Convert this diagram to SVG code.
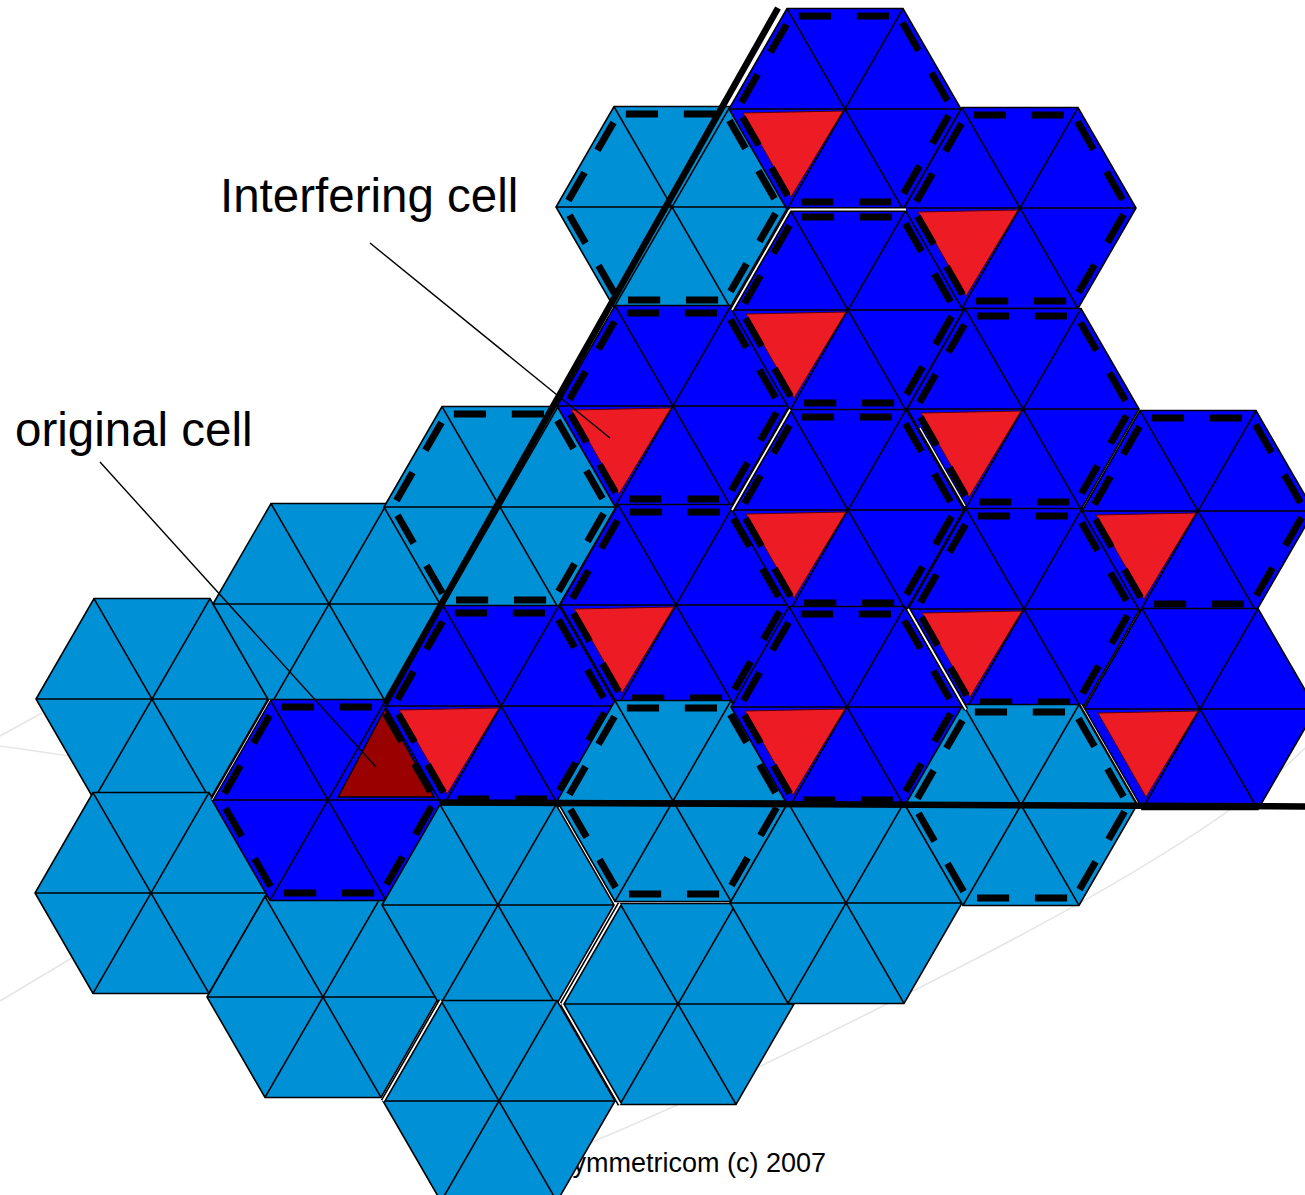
<svg xmlns="http://www.w3.org/2000/svg" width="1305" height="1195" viewBox="0 0 1305 1195">
<style>
.lb{fill:#0090d5;stroke:#000;stroke-width:1.6;stroke-linejoin:miter}
.db{fill:#0000ff;stroke:#000;stroke-width:1.6;stroke-linejoin:miter}
.gl{fill:none;stroke:#000;stroke-width:1.6}
.rt{fill:#ed1c24;stroke:#5a0000;stroke-width:1}
.dr{fill:#990000;stroke:#000;stroke-width:1.4}
.ds{fill:none;stroke:#000;stroke-width:7;stroke-dasharray:30 24 30 16;stroke-dashoffset:93;stroke-linecap:butt}
.bg{fill:none;stroke:#e6e6e6;stroke-width:1.6}
.seamk{stroke:#000;stroke-width:5;stroke-linecap:butt}
.seamw{stroke:#fff;stroke-width:1.8;stroke-linecap:butt}
.axis{fill:none;stroke:#000;stroke-width:6.5;stroke-linecap:butt}
.lead{fill:none;stroke:#000;stroke-width:1.4}
.lbl{font-family:"Liberation Sans",Arial,sans-serif;font-size:47.5px;fill:#000}
.foot{font-family:"Liberation Sans",Arial,sans-serif;font-size:27px;fill:#000}
</style>
<defs>
<path id="hex" d="M-58,-100.46L58,-100.46L116,0L58,100.46L-58,100.46L-116,0Z"/>
<path id="grid" d="M-58,-100.46L58,100.46M58,-100.46L-58,100.46M-116,0L116,0"/>
<path id="dhex" pathLength="600" d="M-53.67,-92.96L53.67,-92.96L107.34,0L53.67,92.96L-53.67,92.96L-107.34,0Z"/>
<polygon id="red" points="-102,4 -2,2 -54,88"/>
</defs>
<rect width="1305" height="1195" fill="#fff"/>
<g id="background">
<path class="bg" d="M0,736L42,713"/>
<path class="bg" d="M0,746L70,756"/>
<path class="bg" d="M0,1001L72,958"/>
<path class="bg" d="M560,1155Q700,1100 960,967T1305,748"/>
</g>
<text class="foot" x="826" y="1172" text-anchor="end">Symmetricom (c) 2007</text>
<g id="cells">
<g id="A1" transform="translate(152,699)"><use href="#hex" class="lb"/><use href="#grid" class="gl"/></g>
<g id="A2" transform="translate(151,893)"><use href="#hex" class="lb"/><use href="#grid" class="gl"/></g>
<g id="B1" transform="translate(329,604)"><use href="#hex" class="lb"/><use href="#grid" class="gl"/></g>
<g id="B3" transform="translate(323,997)"><use href="#hex" class="lb"/><use href="#grid" class="gl"/></g>
<g id="B2" transform="translate(328,800)"><use href="#hex" class="db"/><use href="#grid" class="gl"/><polygon class="dr" points="10,-3 57,-91 106,-3"/><use href="#dhex" class="ds"/></g>
<g id="C1" transform="translate(500,507)"><use href="#hex" class="lb"/><use href="#grid" class="gl"/><use href="#dhex" class="ds"/></g>
<g id="C2" transform="translate(501,706)"><use href="#hex" class="db"/><use href="#grid" class="gl"/><use href="#red" class="rt"/><use href="#dhex" class="ds"/></g>
<g id="C3" transform="translate(498,905)"><use href="#hex" class="lb"/><use href="#grid" class="gl"/></g>
<g id="C4" transform="translate(499,1101)"><use href="#hex" class="lb"/><use href="#grid" class="gl"/></g>
<g id="D1" transform="translate(672,207)"><use href="#hex" class="lb"/><use href="#grid" class="gl"/><use href="#dhex" class="ds"/></g>
<g id="D2" transform="translate(673,406)"><use href="#hex" class="db"/><use href="#grid" class="gl"/><use href="#red" class="rt"/><use href="#dhex" class="ds"/></g>
<g id="D3" transform="translate(676,605)"><use href="#hex" class="db"/><use href="#grid" class="gl"/><use href="#red" class="rt"/><use href="#dhex" class="ds"/></g>
<g id="D4" transform="translate(673,801)"><use href="#hex" class="lb"/><use href="#grid" class="gl"/><use href="#dhex" class="ds"/></g>
<g id="D5" transform="translate(678,1004)"><use href="#hex" class="lb"/><use href="#grid" class="gl"/></g>
<g id="E1" transform="translate(845,109)"><use href="#hex" class="db"/><use href="#grid" class="gl"/><use href="#red" class="rt"/><use href="#dhex" class="ds"/></g>
<g id="E2" transform="translate(848,310)"><use href="#hex" class="db"/><use href="#grid" class="gl"/><use href="#red" class="rt"/><use href="#dhex" class="ds"/></g>
<g id="E3" transform="translate(848,510)"><use href="#hex" class="db"/><use href="#grid" class="gl"/><use href="#red" class="rt"/><use href="#dhex" class="ds"/></g>
<g id="E4" transform="translate(847,707)"><use href="#hex" class="db"/><use href="#grid" class="gl"/><use href="#red" class="rt"/><use href="#dhex" class="ds"/></g>
<g id="E5" transform="translate(846,903)"><use href="#hex" class="lb"/><use href="#grid" class="gl"/></g>
<g id="F1" transform="translate(1020,208)"><use href="#hex" class="db"/><use href="#grid" class="gl"/><use href="#red" class="rt"/><use href="#dhex" class="ds"/></g>
<g id="F2" transform="translate(1023,409)"><use href="#hex" class="db"/><use href="#grid" class="gl"/><use href="#red" class="rt"/><use href="#dhex" class="ds"/></g>
<g id="F3" transform="translate(1024,609)"><use href="#hex" class="db"/><use href="#grid" class="gl"/><use href="#red" class="rt"/><use href="#dhex" class="ds"/></g>
<g id="F4" transform="translate(1021,805)"><use href="#hex" class="lb"/><use href="#grid" class="gl"/><use href="#dhex" class="ds"/></g>
<g id="G1" transform="translate(1198,511)"><use href="#hex" class="db"/><use href="#grid" class="gl"/><use href="#red" class="rt"/><use href="#dhex" class="ds"/></g>
<g id="G2" transform="translate(1200,709)"><use href="#hex" class="db"/><use href="#grid" class="gl"/><use href="#red" class="rt"/></g>
</g>
<g id="seams">
<path class="seamk" d="M790,209.5L906,209.5M732,310L790,209.5M732,510L790,409.5M908,609L966,709.5M562,1004L620,903.5M562,1004L620,1104.5M383,1101L441,1000.5"/>
<path class="seamw" d="M790,209.5L906,209.5M732,310L790,209.5M732,510L790,409.5M908,609L966,709.5M562,1004L620,903.5M562,1004L620,1104.5M383,1101L441,1000.5"/>
<path class="seamk" style="stroke-width:3.5" d="M1081,704.5L1139,805M212,800L270,699.5M920,428L965,506"/>
<path class="seamw" style="stroke:#ddd;stroke-width:1" d="M1081,704.5L1139,805M212,800L270,699.5"/>
<path class="seamw" style="stroke-width:1.4" d="M920,428L965,506"/>
</g>
<g id="axes">
<path class="axis" d="M778,8L385,704"/>
<path class="axis" d="M440,802.5L1305,806.5"/>
</g>
<g id="connectors">
<path class="lead" d="M370,243L610,438"/>
<path class="lead" d="M100,462L376,767"/>
</g>
<g id="labels">
<text class="lbl" x="220" y="212">Interfering cell</text>
<text class="lbl" x="15" y="446">original cell</text>
</g>
</svg>
